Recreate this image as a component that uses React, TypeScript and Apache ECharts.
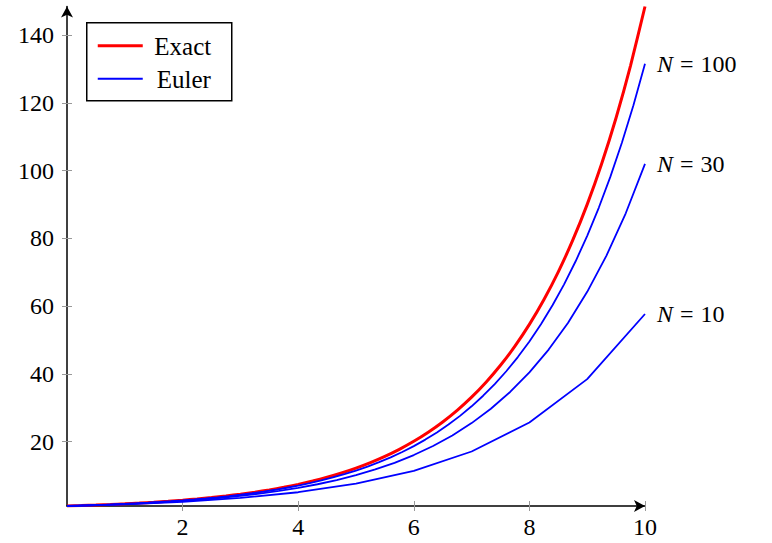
import React, { useEffect, useRef } from "react";
import * as echarts from "echarts";

// Exact solution sampled every 0.25
const tExact = [0, 0.25, 0.5, 0.75, 1, 1.25, 1.5, 1.75, 2, 2.25, 2.5, 2.75, 3, 3.25, 3.5, 3.75, 4, 4.25, 4.5, 4.75, 5, 5.25, 5.5, 5.75, 6, 6.25, 6.5, 6.75, 7, 7.25, 7.5, 7.75, 8, 8.25, 8.5, 8.75, 9, 9.25, 9.5, 9.75, 10];
const yExact = [1, 1.1331, 1.284, 1.455, 1.6487, 1.8682, 2.117, 2.3989, 2.7183, 3.0802, 3.4903, 3.9551, 4.4817, 5.0784, 5.7546, 6.5208, 7.3891, 8.3729, 9.4877, 10.751, 12.1825, 13.8046, 15.6426, 17.7254, 20.0855, 22.7599, 25.7903, 29.2243, 33.1155, 37.5248, 42.5211, 48.1827, 54.5982, 61.8678, 70.1054, 79.4398, 90.0171, 102.0033, 115.5843, 130.9735, 148.4132];

// Euler N = 100 (read every 0.2)
const t100 = [0, 0.2, 0.4, 0.6, 0.8, 1, 1.2, 1.4, 1.6, 1.8, 2, 2.2, 2.4, 2.6, 2.8, 3, 3.2, 3.4, 3.6, 3.8, 4, 4.2, 4.4, 4.6, 4.8, 5, 5.2, 5.4, 5.6, 5.8, 6, 6.2, 6.4, 6.6, 6.8, 7, 7.2, 7.4, 7.6, 7.8, 8, 8.2, 8.4, 8.6, 8.8, 9, 9.2, 9.4, 9.6, 9.8, 10];
const y100 = [1, 1.1025, 1.2155, 1.3401, 1.4775, 1.6289, 1.7959, 1.9799, 2.1829, 2.4066, 2.6533, 2.9253, 3.2251, 3.5557, 3.9201, 4.3219, 4.7649, 5.2534, 5.7918, 6.3855, 7.04, 7.7616, 8.5572, 9.4343, 10.4013, 11.4674, 12.6428, 13.9387, 15.3674, 16.9426, 18.6792, 20.5938, 22.7047, 25.0319, 27.5977, 30.4264, 33.5452, 36.9835, 40.7743, 44.9537, 49.5614, 54.6415, 60.2422, 66.4171, 73.2248, 80.7304, 89.0052, 98.1283, 108.1864, 119.2755, 131.5013];

// Euler N = 30
const t30 = [0, 0.3333, 0.6667, 1, 1.3333, 1.6667, 2, 2.3333, 2.6667, 3, 3.3333, 3.6667, 4, 4.3333, 4.6667, 5, 5.3333, 5.6667, 6, 6.3333, 6.6667, 7, 7.3333, 7.6667, 8, 8.3333, 8.6667, 9, 9.3333, 9.6667, 10];
const y30 = [1, 1.1667, 1.3611, 1.588, 1.8526, 2.1614, 2.5216, 2.9419, 3.4322, 4.0042, 4.6716, 5.4502, 6.3586, 7.4184, 8.6547, 10.0972, 11.7801, 13.7434, 16.034, 18.7063, 21.824, 25.4614, 29.7049, 34.6557, 40.4317, 47.1703, 55.032, 64.204, 74.9047, 87.3888, 101.954];

// Euler N = 10
const t10 = [0, 1, 2, 3, 4, 5, 6, 7, 8, 9, 10];
const y10 = [1, 1.5, 2.25, 3.375, 5.0625, 7.5938, 11.3906, 17.0859, 25.6289, 38.4434, 57.665];

const xTicks = [2, 4, 6, 8, 10];
const yTicks = [20, 40, 60, 80, 100, 120, 140];
const legendNames = ["Exact", "Euler"];
const curveLabels = ["100", "30", "10"];

const FONT = "'Liberation Serif', 'DejaVu Serif', serif";
const FS = 24;

function pairs(t: number[], y: number[]) {
  return t.map((v, i) => [v, y[i]]);
}

export default function App() {
  const ref = useRef<HTMLDivElement>(null);
  useEffect(() => {
    if (!ref.current) return;
    const chart = echarts.init(ref.current, null, { renderer: "svg" });
    const labelFor = (num: string) => ({
      show: true,
      distance: 12,
      formatter: "{i|N}{e|=}{n|" + num + "}",
      color: "#000",
      fontFamily: FONT,
      fontSize: FS,
      rich: {
        i: { fontStyle: "italic", fontFamily: FONT, fontSize: FS, color: "#000" },
        e: { fontFamily: FONT, fontSize: FS, color: "#000", padding: [0, 7, 0, 7] },
        n: { fontFamily: FONT, fontSize: FS, color: "#000" },
      },
    });
    const tickGray = "#999";
    const baseX = {
      type: "value",
      min: 0,
      max: 10,
      splitLine: { show: false },
    };
    const baseY = {
      type: "value",
      min: 1,
      max: 148.413,
      splitLine: { show: false },
    };
    chart.setOption({
      animation: false,
      textStyle: { fontFamily: FONT },
      grid: { left: 67, right: 127, top: 6.5, bottom: 37, containLabel: false },
      xAxis: [
        {
          ...baseX,
          axisLine: { show: true, symbol: ["none", "arrow"], symbolSize: [9, 11], lineStyle: { color: "#000", width: 1.5 } },
          axisTick: { show: true, length: 5, customValues: xTicks, lineStyle: { color: tickGray, width: 1 } },
          axisLabel: { show: true, customValues: xTicks, color: "#000", fontFamily: FONT, fontSize: FS, margin: 9 },
        },
        {
          ...baseX,
          position: "bottom",
          axisLine: { show: false },
          axisTick: { show: true, inside: true, length: 5, customValues: xTicks, lineStyle: { color: tickGray, width: 1 } },
          axisLabel: { show: false },
        },
      ],
      yAxis: [
        {
          ...baseY,
          axisLine: { show: true, symbol: ["none", "arrow"], symbolSize: [9, 11], lineStyle: { color: "#000", width: 1.5 } },
          axisTick: { show: true, length: 5, customValues: yTicks, lineStyle: { color: tickGray, width: 1 } },
          axisLabel: { show: true, customValues: yTicks, color: "#000", fontFamily: FONT, fontSize: FS, margin: 13 },
        },
        {
          ...baseY,
          position: "left",
          axisLine: { show: false },
          axisTick: { show: true, inside: true, length: 5, customValues: yTicks, lineStyle: { color: tickGray, width: 1 } },
          axisLabel: { show: false },
        },
      ],
      series: [
        {
          name: "Exact",
          type: "line",
          data: pairs(tExact, yExact),
          smooth: 0.2,
          showSymbol: false,
          lineStyle: { color: "#ff0000", width: 3 },
          itemStyle: { color: "#ff0000" },
          z: 3,
        },
        {
          name: "Euler",
          type: "line",
          data: pairs(t100, y100),
          showSymbol: false,
          lineStyle: { color: "#0000ff", width: 1.8 },
          itemStyle: { color: "#0000ff" },
          endLabel: labelFor(curveLabels[0]),
        },
        {
          name: "Euler30",
          type: "line",
          data: pairs(t30, y30),
          showSymbol: false,
          lineStyle: { color: "#0000ff", width: 1.8 },
          itemStyle: { color: "#0000ff" },
          endLabel: labelFor(curveLabels[1]),
        },
        {
          name: "Euler10",
          type: "line",
          data: pairs(t10, y10),
          showSymbol: false,
          lineStyle: { color: "#0000ff", width: 1.8 },
          itemStyle: { color: "#0000ff" },
          endLabel: labelFor(curveLabels[2]),
        },
      ],
      graphic: [
        {
          type: "group",
          left: 86,
          top: 22,
          children: [
            { type: "rect", shape: { x: 0, y: 0, width: 145, height: 78 }, style: { fill: "#fff", stroke: "#000", lineWidth: 1.5 } },
            { type: "line", shape: { x1: 11, y1: 23, x2: 56, y2: 23 }, style: { stroke: "#ff0000", lineWidth: 3 } },
            { type: "line", shape: { x1: 11, y1: 56, x2: 56, y2: 56 }, style: { stroke: "#0000ff", lineWidth: 1.8 } },
            { type: "text", x: 96, y: 24, style: { text: legendNames[0], font: `25px ${FONT}`, fill: "#000", align: "center", verticalAlign: "middle" } },
            { type: "text", x: 97, y: 57, style: { text: legendNames[1], font: `25px ${FONT}`, fill: "#000", align: "center", verticalAlign: "middle" } },
          ],
        },
      ],
    });
    return () => chart.dispose();
  }, []);
  return <div ref={ref} style={{ width: 772, height: 543, position: "absolute", left: 0, top: 0 }} />;
}
